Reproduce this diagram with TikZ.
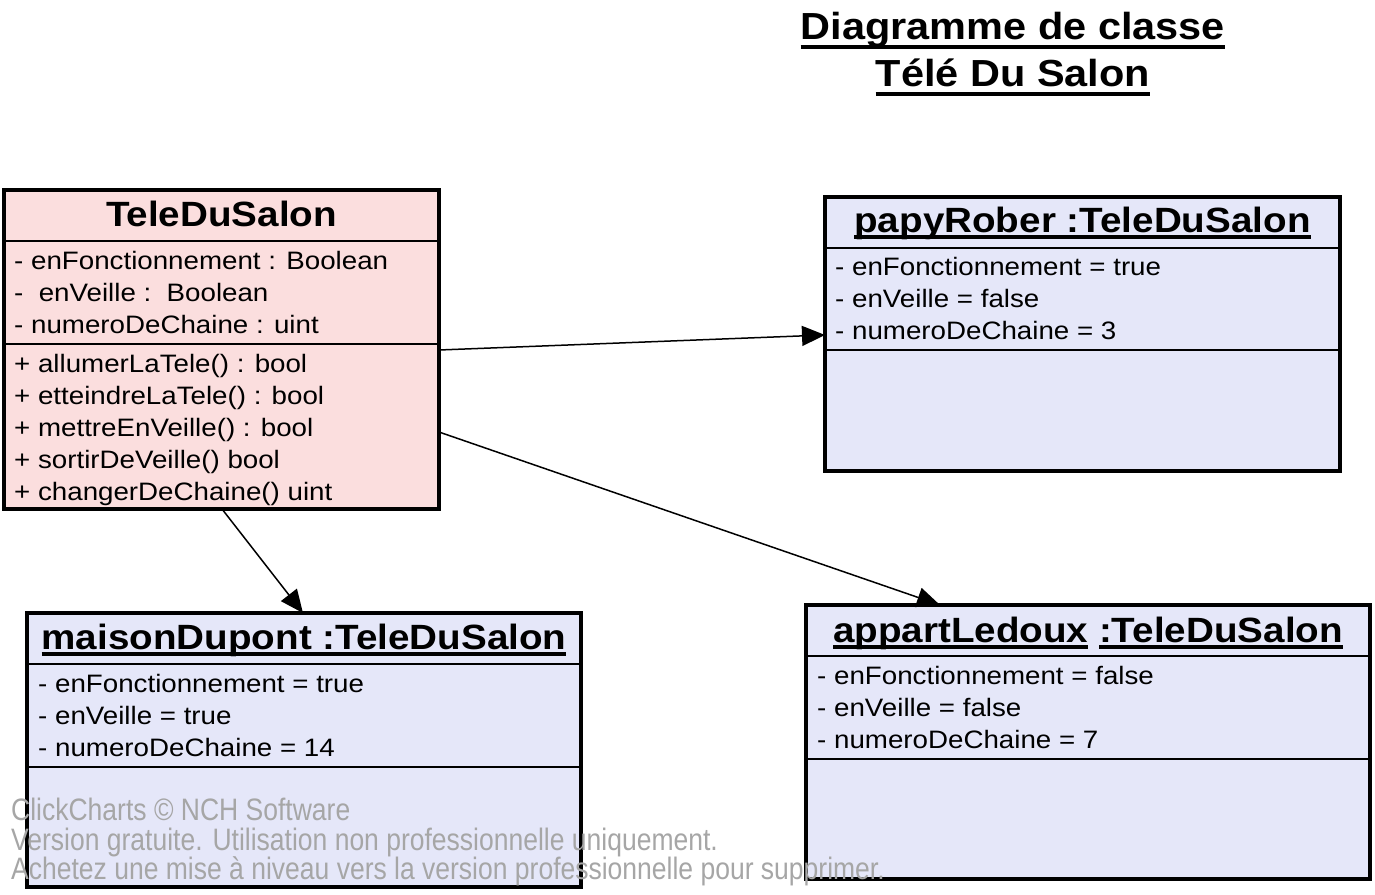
\documentclass[tikz,border=0pt]{standalone}
\usepackage{fontspec}
\setmainfont{Liberation Sans}[FakeStretch=1.1]
\newfontfamily\wmfont{Liberation Sans}[FakeStretch=0.855]
\usetikzlibrary{arrows.meta}
\definecolor{pinkfill}{HTML}{FBDEDE}
\definecolor{lavfill}{HTML}{E5E7F9}
\definecolor{wmgray}{HTML}{A6A6A6}
\newsavebox{\ulbx}
\newcommand{\ulin}[1]{\sbox{\ulbx}{#1}\rlap{\rule[-6.5pt]{\wd\ulbx}{3.3pt}}\usebox{\ulbx}}
\tikzset{
  umlbox/.style={draw=black, line width=3.3pt, anchor=north west, inner sep=0pt, outer sep=0pt},
  classbox/.style={umlbox, fill=pinkfill},
  objbox/.style={umlbox, fill=lavfill},
  sepline/.style={line width=2pt},
  rowtext/.style={anchor=base west, inner sep=0pt, font=\fontsize{25.2}{32}\selectfont},
  titletext/.style={anchor=base, inner sep=0pt, font=\fontsize{35.1}{38}\selectfont\bfseries},
  maintitle/.style={anchor=base, inner sep=0pt, font=\fontsize{37.7}{46.7}\selectfont\bfseries},
  titleline/.style={line width=4pt},
  wmtext/.style={anchor=base west, inner sep=0pt, text=wmgray, font=\wmfont\fontsize{31}{30}\selectfont},
  assoc/.style={line width=1.5pt, -{Triangle[length=23pt,width=20pt]}},
}
\begin{document}
\begin{tikzpicture}[x=1pt,y=-1pt]
\useasboundingbox (0,0) rectangle (1375,894);

% main title
\node[maintitle] (t1) at (1013,39) {Diagramme de classe\ };
\node[maintitle] (t2) at (1013,86) {Télé Du Salon};
\draw[titleline] ([yshift=-7.5pt]t1.base west) -- ([yshift=-7.5pt]t1.base east);
\draw[titleline] ([yshift=-8pt]t2.base west) -- ([yshift=-8pt]t2.base east);

% class box
\node[classbox, minimum width=435pt, minimum height=319pt] (tele) at (4,190) {};
\draw[sepline] (tele.west |- 0,241) -- (tele.east |- 0,241);
\draw[sepline] (tele.west |- 0,344) -- (tele.east |- 0,344);
\node[titletext] (teleT) at (221.5,226) {TeleDuSalon};
\node[rowtext] (ta1) at (14,269) {- enFonctionnement : Boolean};
\node[rowtext] (ta2) at (14,301) {-\ \ enVeille :\ \ Boolean};
\node[rowtext] (ta3) at (14,333) {- numeroDeChaine : uint};
\node[rowtext] (tm1) at (14,372) {+ allumerLaTele() : bool};
\node[rowtext] (tm2) at (14,404) {+ etteindreLaTele() : bool};
\node[rowtext] (tm3) at (14,436) {+ mettreEnVeille() : bool};
\node[rowtext] (tm4) at (14,468) {+ sortirDeVeille() bool};
\node[rowtext] (tm5) at (14,500) {+ changerDeChaine() uint};

% papyRober
\node[objbox, minimum width=515pt, minimum height=274pt] (papy) at (825,197) {};
\draw[sepline] (papy.west |- 0,248) -- (papy.east |- 0,248);
\draw[sepline] (papy.west |- 0,350) -- (papy.east |- 0,350);
\node[titletext] (papyT) at (1082.5,232) {\ulin{papyRober :TeleDuSalon}};
\node[rowtext] (pa1) at (835,275) {- enFonctionnement = true};
\node[rowtext] (pa2) at (835,307) {- enVeille = false};
\node[rowtext] (pa3) at (835,339) {- numeroDeChaine = 3};

% maisonDupont
\node[objbox, minimum width=554pt, minimum height=274pt] (maison) at (27,613) {};
\draw[sepline] (maison.west |- 0,664) -- (maison.east |- 0,664);
\draw[sepline] (maison.west |- 0,767) -- (maison.east |- 0,767);
\node[titletext] (maisonT) at (304,649) {\ulin{maisonDupont :TeleDuSalon}};
\node[rowtext] (ma1) at (38,692) {- enFonctionnement = true};
\node[rowtext] (ma2) at (38,724) {- enVeille = true};
\node[rowtext] (ma3) at (38,756) {- numeroDeChaine = 14};

% appartLedoux
\node[objbox, minimum width=564pt, minimum height=274pt] (appart) at (806,605) {};
\draw[sepline] (appart.west |- 0,656) -- (appart.east |- 0,656);
\draw[sepline] (appart.west |- 0,759) -- (appart.east |- 0,759);
\node[titletext] (appartT) at (1088,642) {\ulin{appartLedoux} \ulin{:TeleDuSalon}};
\node[rowtext] (aa1) at (817,684) {- enFonctionnement = false};
\node[rowtext] (aa2) at (817,716) {- enVeille = false};
\node[rowtext] (aa3) at (817,748) {- numeroDeChaine = 7};

% connectors
\coordinate (e1s) at (tele.east |- 0,350);
\coordinate (e1t) at (papy.west |- 0,335);
\coordinate (e2s) at (tele.east |- 0,432);
\coordinate (e2t) at (appart.north -| 940,0);
\coordinate (e3s) at (tele.south -| 222,0);
\coordinate (e3t) at (maison.north -| 303,0);
\draw[assoc] (e1s) -- (e1t);
\draw[assoc] (e2s) -- (e2t);
\draw[assoc] (e3s) -- (e3t);

% watermark
\node[wmtext] (wm1) at (11,820) {ClickCharts © NCH Software};
\node[wmtext] (wm2) at (11,850) {Version gratuite. Utilisation non professionnelle uniquement.};
\node[wmtext] (wm3) at (11,879) {Achetez une mise à niveau vers la version professionnelle pour supprimer.};
\end{tikzpicture}
\end{document}
